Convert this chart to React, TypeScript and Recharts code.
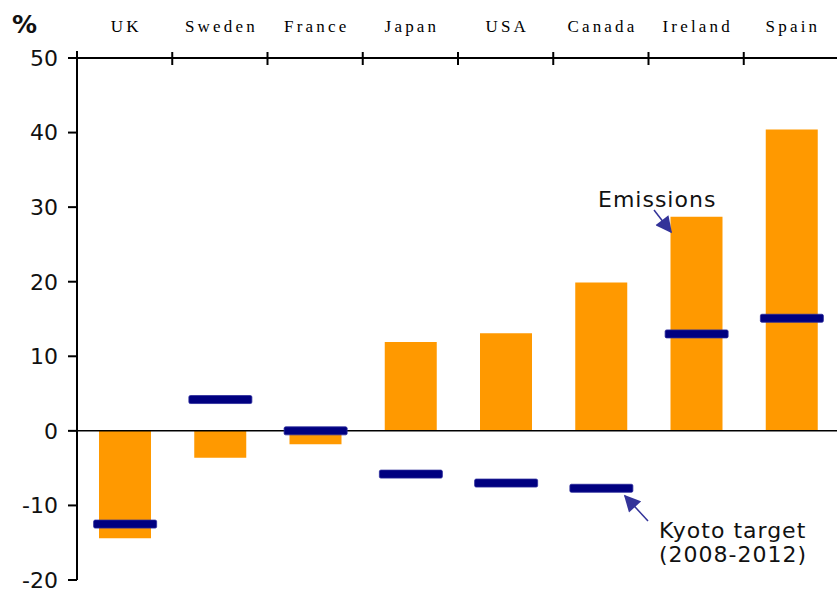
import { ComposedChart, Bar, Scatter, XAxis, YAxis, ReferenceLine } from 'recharts';

const categories = ['UK', 'Sweden', 'France', 'Japan', 'USA', 'Canada', 'Ireland', 'Spain'];
const emissions = [-14.4, -3.6, -1.8, 11.9, 13.1, 19.9, 28.7, 40.4];
const kyotoTarget = [-12.5, 4.2, 0, -5.8, -7.0, -7.7, 13.0, 15.1];
const yTicks = [-20, -10, 0, 10, 20, 30, 40, 50];

const data = categories.map((c, i) => ({ country: c, emissions: emissions[i], kyoto: kyotoTarget[i] }));

const W = 839;
const H = 590;
const LEFT = 77;
const BAND = (W - LEFT) / categories.length;
const LS = 3.2;

function TopTick(props: any) {
  const { x, payload, index } = props;
  return (
    <g>
      <text
        x={x + LS / 2}
        y={32}
        textAnchor="middle"
        fontFamily="'Liberation Serif', 'Times New Roman', serif"
        fontSize={17}
        letterSpacing={LS}
        fill="#000"
      >
        {payload.value}
      </text>
      <line x1={x + BAND / 2} x2={x + BAND / 2} y1={52} y2={65} stroke="#000" strokeWidth={2} />
      {index === 0 && <line x1={x - BAND / 2} x2={x - BAND / 2} y1={51} y2={58} stroke="#000" strokeWidth={2} />}
    </g>
  );
}

function KyotoMark(props: any) {
  const { cx, cy } = props;
  return <rect x={cx - 31} y={cy - 4} width={63} height={8} rx={1.5} fill="#000080" stroke="#2a2a9a" strokeWidth={0.8} />;
}

export default function App() {
  const sans = "'DejaVu Sans', Verdana, sans-serif";
  return (
    <div style={{ position: 'absolute', left: 0, top: 0, width: 837, height: H, overflow: 'hidden', background: '#fff' }}>
      <ComposedChart width={W} height={H} data={data} margin={{ top: 18, right: 0, left: 0, bottom: 10 }}>
        <XAxis
          dataKey="country"
          orientation="top"
          height={40}
          axisLine={{ stroke: '#000', strokeWidth: 2 }}
          tickLine={false}
          interval={0}
          tick={(p: any) => <TopTick {...p} />}
        />
        <YAxis
          width={LEFT}
          domain={[-20, 50]}
          ticks={yTicks}
          interval={0}
          axisLine={{ stroke: '#000', strokeWidth: 2 }}
          tickLine={{ stroke: '#000', strokeWidth: 2 }}
          tickSize={9}
          tickMargin={10}
          tick={{ fill: '#111', fontSize: 22, fontFamily: sans }}
        />
        <ReferenceLine y={0} stroke="#000" strokeWidth={1.5} />
        <Bar dataKey="emissions" fill="#FF9900" barSize={52} isAnimationActive={false} />
        <Scatter dataKey="kyoto" shape={(p: any) => <KyotoMark {...p} />} isAnimationActive={false} />
      </ComposedChart>
      <svg width={837} height={H} style={{ position: 'absolute', left: 0, top: 0, pointerEvents: 'none' }}>
        <defs>
          <marker id="ah" viewBox="0 0 10 10" refX="9" refY="5" markerWidth="12" markerHeight="11" orient="auto-start-reverse">
            <path d="M0,0 L10,5 L0,10 z" fill="#333399" />
          </marker>
        </defs>
        <text x={12} y={33} fontFamily={sans} fontWeight="bold" fontSize={25} fill="#111">%</text>
        <text x={598} y={207} fontFamily={sans} fontSize={22} letterSpacing={1} fill="#111">Emissions</text>
        <line x1={654} y1={210} x2={671} y2={232} stroke="#333399" strokeWidth={1.5} markerEnd="url(#ah)" />
        <text x={659} y={538} fontFamily={sans} fontSize={22} letterSpacing={1} fill="#111">Kyoto target</text>
        <text x={659} y={562} fontFamily={sans} fontSize={22} letterSpacing={1} fill="#111">(2008-2012)</text>
        <line x1={648} y1={521} x2={625} y2={496} stroke="#333399" strokeWidth={1.5} markerEnd="url(#ah)" />
      </svg>
    </div>
  );
}
